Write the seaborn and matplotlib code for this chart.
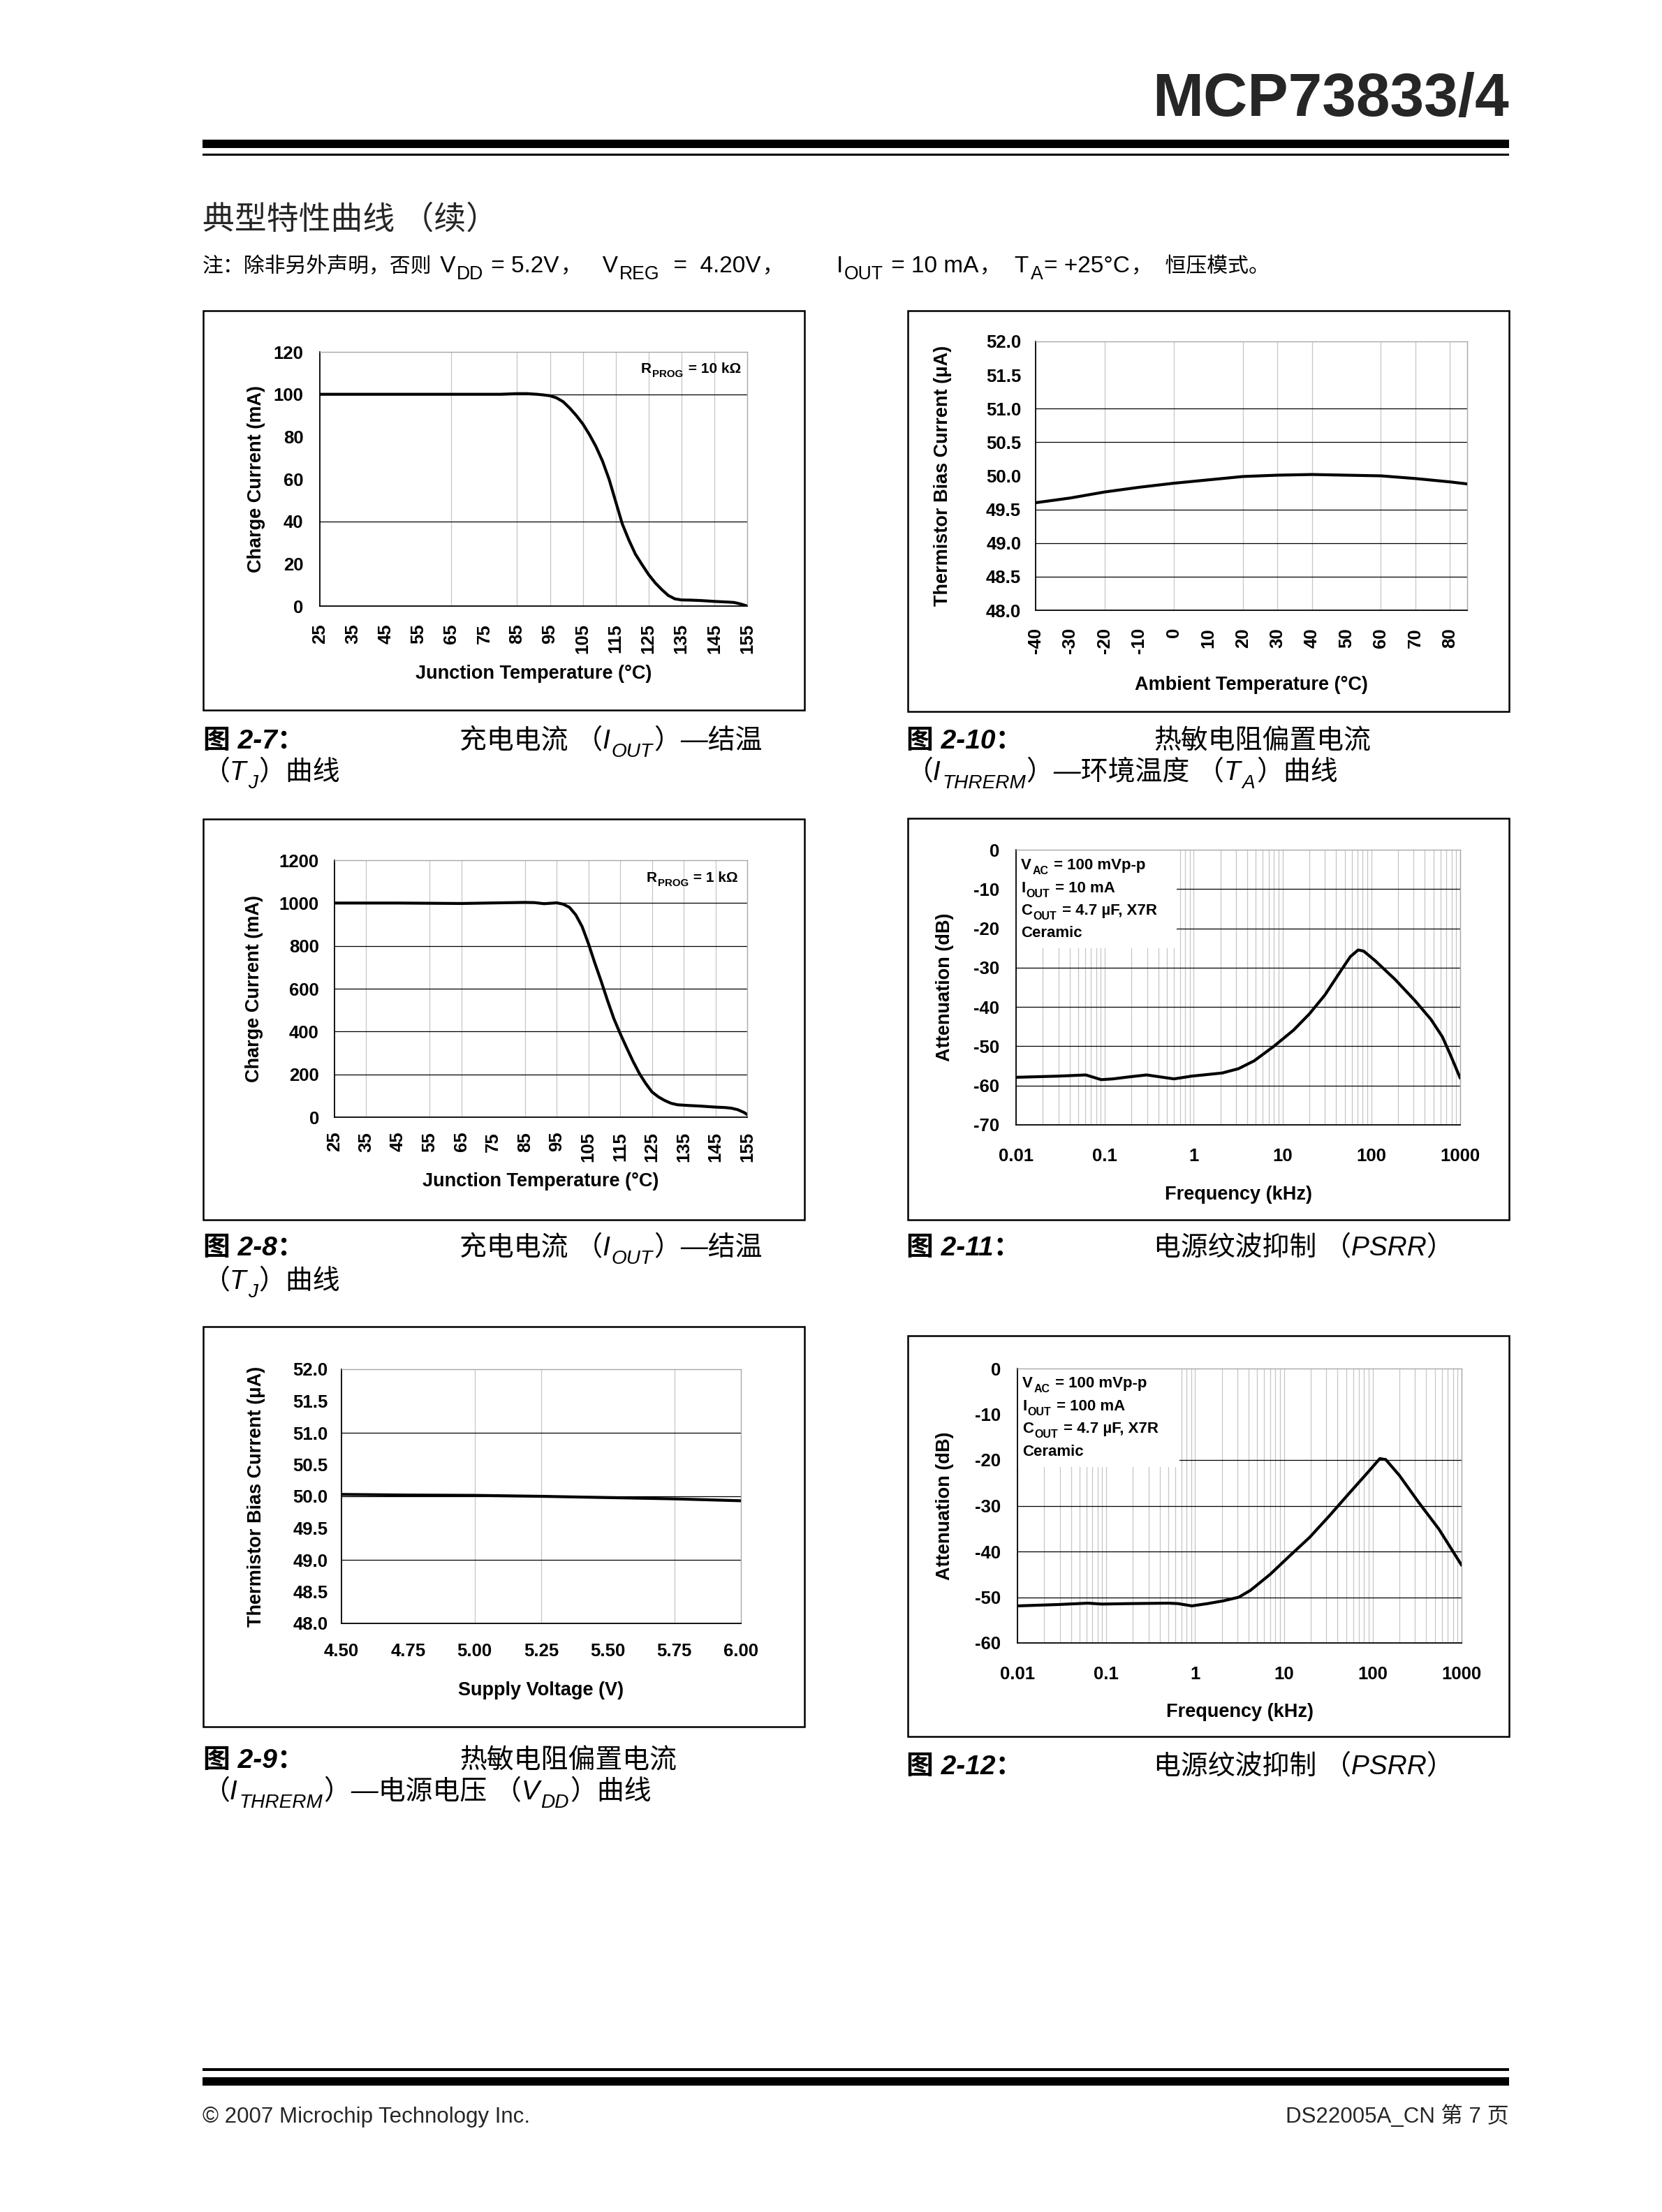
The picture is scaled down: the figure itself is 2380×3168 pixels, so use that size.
import numpy as np
import pandas as pd
import matplotlib
matplotlib.use("Agg")
import matplotlib.pyplot as plt
import seaborn as sns
from matplotlib.patches import Rectangle
from matplotlib.ticker import LogLocator, NullFormatter

W, H, DPI = 2380, 3168, 100

# ---------------- data ----------------
# Fig 2-7: charge current vs junction temperature, RPROG = 10 kOhm
p7_temp = [25, 45, 65, 80, 85, 88, 91, 93, 95, 97, 99, 101, 103, 105, 107, 109, 111,
           113, 115, 117, 119, 121, 123, 125, 127, 129, 131, 133, 135, 138, 141, 145,
           149, 151, 153, 155]
p7_curr = [100, 100, 100, 100, 100.3, 100.3, 100, 99.7, 99.3, 98.3, 96.5, 93.5, 90,
           86, 81, 75.3, 68.4, 59.8, 49.3, 38.8, 31.2, 24.5, 19.6, 14.9, 11.0, 7.8,
           5.0, 3.4, 2.9, 2.8, 2.6, 2.2, 1.9, 1.7, 1.0, 0]
p7_xticks = [25, 35, 45, 55, 65, 75, 85, 95, 105, 115, 125, 135, 145, 155]
p7_yticks = [0, 20, 40, 60, 80, 100, 120]

# Fig 2-8: charge current vs junction temperature, RPROG = 1 kOhm
p8_temp = [25, 45, 65, 85, 88, 91, 95, 97, 99, 101, 103, 105, 107, 109, 111, 113, 115,
           117, 119, 121, 123, 125, 127, 129, 131, 133, 136, 140, 145, 148, 150, 152,
           154, 155]
p8_curr = [1000, 1000, 998, 1003, 1002, 997, 1001, 995, 980, 945, 890, 810, 720, 635,
           545, 460, 390, 325, 262, 205, 158, 118, 95, 78, 65, 58, 55, 52, 47, 45, 42,
           35, 22, 12]
p8_xticks = [25, 35, 45, 55, 65, 75, 85, 95, 105, 115, 125, 135, 145, 155]
p8_yticks = [0, 200, 400, 600, 800, 1000, 1200]

# Fig 2-9: thermistor bias current vs supply voltage
p9_vdd = [4.50, 4.75, 5.00, 5.25, 5.50, 5.75, 6.00]
p9_bias = [50.03, 50.02, 50.015, 50.0, 49.98, 49.96, 49.93]
p9_xticks = [4.50, 4.75, 5.00, 5.25, 5.50, 5.75, 6.00]
p9_yticks = [48.0, 48.5, 49.0, 49.5, 50.0, 50.5, 51.0, 51.5, 52.0]

# Fig 2-10: thermistor bias current vs ambient temperature
p10_temp = [-40, -30, -20, -10, 0, 10, 20, 30, 40, 50, 60, 70, 80, 85]
p10_bias = [49.60, 49.67, 49.76, 49.83, 49.89, 49.94, 49.99, 50.01, 50.02, 50.01,
            50.00, 49.96, 49.91, 49.88]
p10_xticks = [-40, -30, -20, -10, 0, 10, 20, 30, 40, 50, 60, 70, 80]
p10_yticks = [48.0, 48.5, 49.0, 49.5, 50.0, 50.5, 51.0, 51.5, 52.0]

# Fig 2-11: PSRR, IOUT = 10 mA
p11_freq = [0.01, 0.030, 0.061, 0.091, 0.124, 0.186, 0.295, 0.42, 0.6, 0.95, 1.42,
            2.1, 3.2, 4.8, 8.0, 13.3, 20.0, 29.9, 45, 58, 71, 82, 110, 185, 310,
            470, 630, 770, 1000]
p11_atten = [-57.9, -57.6, -57.3, -58.5, -58.3, -57.8, -57.3, -57.8, -58.3, -57.6,
             -57.2, -56.8, -55.7, -53.7, -50.0, -45.9, -41.8, -37.0, -30.9, -27.2,
             -25.5, -25.8, -28.2, -33.0, -38.4, -43.2, -47.6, -52.0, -58.1]
p11_yticks = [-70, -60, -50, -40, -30, -20, -10, 0]

# Fig 2-12: PSRR, IOUT = 100 mA
p12_freq = [0.01, 0.029, 0.062, 0.089, 0.18, 0.5, 0.64, 0.92, 1.38, 2.07, 3.1, 4.2,
            7.0, 11.7, 19.5, 32.5, 53, 89, 120, 140, 200, 330, 555, 1000]
p12_atten = [-51.9, -51.6, -51.3, -51.5, -51.4, -51.3, -51.4, -51.9, -51.4, -50.8,
             -50.0, -48.5, -45.0, -40.9, -36.9, -32.2, -27.5, -22.6, -19.7, -19.9,
             -23.4, -29.3, -35.1, -43.0]
p12_yticks = [-60, -50, -40, -30, -20, -10, 0]

freq_ticks = [0.01, 0.1, 1, 10, 100, 1000]
freq_labels = ["0.01", "0.1", "1", "10", "100", "1000"]

# ---------------- style ----------------
sns.set_theme(style="white")
FAM = ["Liberation Sans", "Noto Sans CJK SC", "DejaVu Sans"]
plt.rcParams["font.family"] = FAM
plt.rcParams["axes.unicode_minus"] = False

fig = plt.figure(figsize=(W / DPI, H / DPI), dpi=DPI)
fig.patch.set_facecolor("white")
renderer = fig.canvas.get_renderer()


def fx(x):
    return x / W


def fy(y):
    return 1 - y / H


def rect(x0, y0, x1, y1, **kw):
    r = Rectangle((fx(x0), fy(y1)), (x1 - x0) / W, (y1 - y0) / H,
                  transform=fig.transFigure, **kw)
    fig.add_artist(r)


def rich(x, y, segs, size, weight="normal", style="normal", ha="left",
         sub_scale=0.72, sub_drop=0.30, color="black", gap=1.5):
    """segs: str (normal) or tuple (text,) for subscript or (text, size) override."""
    texts = []
    cx = x
    for i, seg in enumerate(segs):
        if isinstance(seg, tuple) and len(seg) == 1:
            txt, fs, yy = seg[0], size * sub_scale, y + size * sub_drop * DPI / 72
        elif isinstance(seg, tuple):
            txt, fs, yy = seg[0], seg[1], y
        else:
            txt, fs, yy = seg, size, y
        if i > 0:
            cx += gap
        t = fig.text(fx(cx), fy(yy), txt, fontsize=fs, fontweight=weight,
                     fontstyle=style, ha="left", va="baseline", family=FAM,
                     color=color)
        bb = t.get_window_extent(renderer)
        cx = bb.x1
        texts.append(t)
    if ha == "right":
        dx = -(cx - x)
        for t in texts:
            px, py = t.get_position()
            t.set_x(px + dx / W)
    return texts


def make_ax(box, plot):
    rect(*box, fill=False, ec="black", lw=1.8, zorder=0)
    x0, y0, x1, y1 = plot
    ax = fig.add_axes([fx(x0), fy(y1), (x1 - x0) / W, (y1 - y0) / H])
    ax.set_facecolor("white")
    for s in ["left", "bottom"]:
        ax.spines[s].set_color("black")
        ax.spines[s].set_linewidth(1.3)
    for s in ["top", "right"]:
        ax.spines[s].set_color("#a8a8a8")
        ax.spines[s].set_linewidth(1.0)
    ax.grid(False)
    return ax


def finish(ax, plot, xlabel, ylabel, xlab_y, ylab_x, xpad, ypad):
    x0, y0, x1, y1 = plot
    ax.tick_params(axis="x", length=0, pad=xpad, labelsize=18.5, colors="black")
    ax.tick_params(axis="y", length=0, pad=ypad, labelsize=18.5, colors="black")
    for lab in ax.get_xticklabels() + ax.get_yticklabels():
        lab.set_fontweight("bold")
    ax.set_xlabel(xlabel, fontsize=19.5, fontweight="bold", color="black")
    ax.set_ylabel(ylabel, fontsize=19.5, fontweight="bold", color="black")
    ax.xaxis.label.set_va("center")
    ax.yaxis.label.set_va("center")
    ax.xaxis.set_label_coords(0.5, (y1 - xlab_y) / (y1 - y0))
    ax.yaxis.set_label_coords((ylab_x - x0) / (x1 - x0), 0.5)


def hgrid(ax, vals):
    for v in vals:
        ax.axhline(v, color="black", lw=0.9, zorder=0.6)


def vgrid(ax, vals):
    for v in vals:
        ax.axvline(v, color="#c6c6c6", lw=0.9, zorder=0.5)


LINE = dict(color="black", linewidth=3.0, zorder=3)

# ---------------- Fig 2-7 ----------------
plot = (458, 504, 1070, 868)
ax = make_ax((291, 445, 1152, 1017), plot)
vgrid(ax, [65, 85, 95, 105, 115, 125, 135, 145])
hgrid(ax, [100, 40])
sns.lineplot(x=p7_temp, y=p7_curr, ax=ax, **LINE)
ax.set_xlim(25, 155)
ax.set_ylim(0, 120)
ax.set_xticks(p7_xticks)
ax.set_xticklabels([str(v) for v in p7_xticks], rotation=90)
ax.set_yticks(p7_yticks)
ax.set_yticklabels([str(v) for v in p7_yticks])
finish(ax, plot, "Junction Temperature (°C)", "Charge Current (mA)", 965, 367, 18, 17)
rich(1061, 534, ["R", ("PROG",), " = 10 kΩ"], 15, weight="bold", ha="right")

# ---------------- Fig 2-8 ----------------
plot = (479, 1232, 1070, 1600)
ax = make_ax((291, 1173, 1152, 1747), plot)
vgrid(ax, [35, 55, 65, 85, 95, 105, 115, 125, 135, 145])
hgrid(ax, [1000, 800, 600, 400, 200])
sns.lineplot(x=p8_temp, y=p8_curr, ax=ax, **LINE)
ax.set_xlim(25, 155)
ax.set_ylim(0, 1200)
ax.set_xticks(p8_xticks)
ax.set_xticklabels([str(v) for v in p8_xticks], rotation=90)
ax.set_yticks(p8_yticks)
ax.set_yticklabels([str(v) for v in p8_yticks])
finish(ax, plot, "Junction Temperature (°C)", "Charge Current (mA)", 1692, 364, 15, 16)
rich(1057, 1263, ["R", ("PROG",), " = 1 kΩ"], 15, weight="bold", ha="right")

# ---------------- Fig 2-9 ----------------
plot = (489, 1961, 1061, 2325)
ax = make_ax((291, 1900, 1152, 2473), plot)
vgrid(ax, [5.00, 5.25, 5.75])
hgrid(ax, [51.0, 50.0, 49.0])
sns.lineplot(x=p9_vdd, y=p9_bias, ax=ax, **LINE)
ax.set_xlim(4.5, 6.0)
ax.set_ylim(48.0, 52.0)
ax.set_xticks(p9_xticks)
ax.set_xticklabels([f"{v:.2f}" for v in p9_xticks])
ax.set_yticks(p9_yticks)
ax.set_yticklabels([f"{v:.1f}" for v in p9_yticks])
finish(ax, plot, "Supply Voltage (V)", "Thermistor Bias Current (μA)", 2421, 367, 20, 14)

# ---------------- Fig 2-10 ----------------
plot = (1483, 489, 2101, 874)
ax = make_ax((1300, 445, 2161, 1019), plot)
vgrid(ax, [-20, 0, 20, 30, 40, 60, 70, 80])
hgrid(ax, [51.0, 50.5, 49.5, 49.0, 48.5])
sns.lineplot(x=p10_temp, y=p10_bias, ax=ax, **LINE)
ax.set_xlim(-40, 85)
ax.set_ylim(48.0, 52.0)
ax.set_xticks(p10_xticks)
ax.set_xticklabels([str(v) for v in p10_xticks], rotation=90)
ax.set_yticks(p10_yticks)
ax.set_yticklabels([f"{v:.1f}" for v in p10_yticks])
finish(ax, plot, "Ambient Temperature (°C)", "Thermistor Bias Current (μA)", 981, 1350, 18, 15)


# ---------------- PSRR panels ----------------
def psrr(box, plot, freq, atten, yticks, ylim, hg, cover, lines, line_y, xlab_y):
    ax = make_ax(box, plot)
    ax.set_xscale("log")
    ax.set_xlim(0.01, 1000)
    ax.set_ylim(*ylim)
    ax.xaxis.set_minor_locator(LogLocator(base=10, subs=np.arange(2, 10), numticks=20))
    ax.xaxis.set_minor_formatter(NullFormatter())
    ax.set_xticks(freq_ticks)
    ax.set_xticklabels(freq_labels)
    ax.set_yticks(yticks)
    ax.set_yticklabels([str(v) for v in yticks])
    ax.set_axisbelow(True)
    ax.grid(True, which="both", axis="x", color="#c6c6c6", lw=0.9)
    hgrid(ax, hg)
    ax.add_patch(Rectangle((0, 1 - cover[1]), cover[0], cover[1], transform=ax.transAxes,
                           facecolor="white", edgecolor="none", zorder=1.5))
    sns.lineplot(x=freq, y=atten, ax=ax, **LINE)
    finish(ax, plot, "Frequency (kHz)", "Attenuation (dB)", xlab_y, 1353, 24, 17)
    for segs, yy in zip(lines, line_y):
        rich(plot[0] + 7, yy, segs, 16, weight="bold")
    return ax


psrr((1300, 1172, 2161, 1747), (1455, 1217, 2091, 1611), p11_freq, p11_atten,
     p11_yticks, (-70, 0), [-10, -20, -30, -40, -50, -60], (0.362, 0.357),
     [["V", ("AC",), " = 100 mVp-p"], ["I", ("OUT",), " = 10 mA"],
      ["C", ("OUT",), " = 4.7 µF, X7R"], ["Ceramic"]],
     [1245, 1278, 1310, 1342], 1711)

psrr((1300, 1913, 2161, 2487), (1457, 1960, 2093, 2353), p12_freq, p12_atten,
     p12_yticks, (-60, 0), [-20, -30, -40, -50], (0.364, 0.36),
     [["V", ("AC",), " = 100 mVp-p"], ["I", ("OUT",), " = 100 mA"],
      ["C", ("OUT",), " = 4.7 µF, X7R"], ["Ceramic"]],
     [1987, 2020, 2052, 2085], 2452)

# ---------------- page header ----------------
fig.text(fx(2161), fy(166), "MCP73833/4", fontsize=63, fontweight="bold",
         ha="right", va="baseline", family=FAM)
rect(290, 200, 2161, 212, facecolor="black", edgecolor="none")
rect(290, 220, 2161, 223, facecolor="black", edgecolor="none")
fig.text(fx(290), fy(328), "典型特性曲线 （续）", fontsize=33, ha="left",
         va="baseline", family=["Noto Sans CJK SC", "DejaVu Sans"])
LAT, CJK = 24, 21.5
rich(290, 390, [("注：除非另外声明，否则", CJK), (" V", LAT), ("DD",), (" = 5.2V", LAT),
                ("，", CJK), ("   V", LAT), ("REG",), ("  =  4.20V", LAT), ("，", CJK),
                ("        I", LAT), ("OUT",), (" = 10 mA", LAT), ("，", CJK), ("  T", LAT),
                ("A",), ("= +25°C", LAT), ("，", CJK), ("  恒压模式。", CJK)],
     LAT, sub_scale=0.8, sub_drop=0.3, gap=2)

# ---------------- captions ----------------
CS = 28


def caption(x_lab, x_title, y1, label, title, line2=None, y2=None):
    rich(x_lab, y1, [label], CS, weight="bold", style="italic")
    rich(x_title, y1, title, CS, style="italic")
    if line2 is not None:
        rich(x_lab, y2, line2, CS, style="italic")


caption(291, 658, 1072, "图 2-7：", ["充电电流 （I", ("OUT",), "）—结温"],
        ["（T", ("J",), "）曲线"], 1117)
caption(1298, 1652, 1072, "图 2-10：", ["热敏电阻偏置电流"],
        ["（I", ("THRERM",), "）—环境温度 （T", ("A",), "）曲线"], 1117)
caption(291, 658, 1798, "图 2-8：", ["充电电流 （I", ("OUT",), "）—结温"],
        ["（T", ("J",), "）曲线"], 1846)
caption(1298, 1652, 1798, "图 2-11：", ["电源纹波抑制 （PSRR）"])
caption(291, 658, 2532, "图 2-9：", ["热敏电阻偏置电流"],
        ["（I", ("THRERM",), "）—电源电压 （V", ("DD",), "）曲线"], 2577)
caption(1298, 1652, 2541, "图 2-12：", ["电源纹波抑制 （PSRR）"])

# ---------------- footer ----------------
rect(290, 2962, 2161, 2966, facecolor="black", edgecolor="none")
rect(290, 2975, 2161, 2987, facecolor="black", edgecolor="none")
fig.text(fx(290), fy(3040), "© 2007 Microchip Technology Inc.", fontsize=22.5,
         ha="left", va="baseline", family=FAM)
fig.text(fx(2161), fy(3040), "DS22005A_CN 第 7 页", fontsize=22.5,
         ha="right", va="baseline", family=FAM)

fig.savefig("out.png", dpi=DPI, facecolor="white")
